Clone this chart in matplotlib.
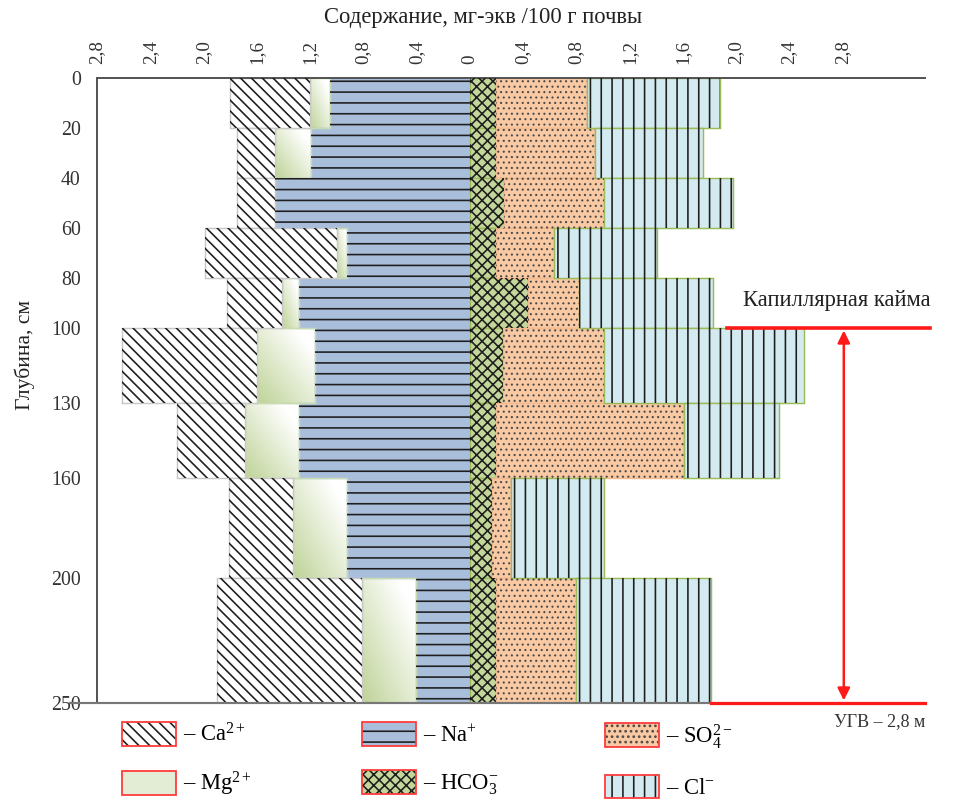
import numpy as np
import matplotlib
matplotlib.use('Agg')
import matplotlib.pyplot as plt
from matplotlib.patches import Patch
from matplotlib.colors import to_rgb

plt.rcParams['font.family'] = ['Liberation Serif', 'DejaVu Serif']
plt.rcParams['mathtext.fontset'] = 'custom'
plt.rcParams['mathtext.rm'] = 'Liberation Serif'
plt.rcParams['mathtext.it'] = 'Liberation Serif:italic'
plt.rcParams['hatch.linewidth'] = 0.9

# layer boundaries, cm
depth_bounds = [0, 20, 40, 60, 80, 100, 130, 160, 200, 250]
depth_ticks = [0, 20, 40, 60, 80, 100, 130, 160, 200, 250]

# cations, mg-eq / 100 g (to the left of zero)
na = [1.05, 1.19, 1.46, 0.92, 1.28, 1.16, 1.28, 0.92, 0.40]
mg = [0.15, 0.27, 0.00, 0.08, 0.13, 0.44, 0.41, 0.41, 0.41]
ca = [0.60, 0.29, 0.29, 0.99, 0.41, 1.01, 0.51, 0.48, 1.09]

# anions (to the right of zero)
hco3 = [0.20, 0.20, 0.26, 0.20, 0.44, 0.25, 0.20, 0.17, 0.20]
so4 = [0.68, 0.74, 0.75, 0.43, 0.38, 0.76, 1.41, 0.14, 0.60]
cl = [1.00, 0.81, 0.97, 0.78, 1.01, 1.50, 0.71, 0.70, 1.01]

x_ticks = [-2.8, -2.4, -2.0, -1.6, -1.2, -0.8, -0.4, 0, 0.4, 0.8, 1.2, 1.6, 2.0, 2.4, 2.8]
x_labels = ['2,8', '2,4', '2,0', '1,6', '1,2', '0,8', '0,4', '0',
            '0,4', '0,8', '1,2', '1,6', '2,0', '2,4', '2,8']

kaima_depth = 100   # capillary fringe
ugv_depth = 250     # bottom of profile

top = np.array(depth_bounds[:-1])
thick = np.diff(depth_bounds)
na, mg, ca = np.array(na), np.array(mg), np.array(ca)
hco3, so4, cl = np.array(hco3), np.array(so4), np.array(cl)

fig = plt.figure(figsize=(966 / 130, 800 / 130), dpi=130)
ax = fig.add_axes([97 / 966, 1 - 703 / 800, 828 / 966, 625 / 800])

HATCH_COL = '#1e1e1e'
DOT_COL = '#4a4a4a'
CA_HATCH = '\\\\\\\\'
DOTS = '....'
CROSS = 'xxxx'


def layer(left, width, color, edge, hatch=None, hcol=HATCH_COL):
    bars = ax.barh(top, width, left=left, height=thick, align='edge',
                   facecolor=color, edgecolor=edge, linewidth=0.8, zorder=2)
    if hatch:
        ax.barh(top, width, left=left, height=thick, align='edge',
                facecolor='none', edgecolor=hcol, hatch=hatch,
                linewidth=0, zorder=3)
    return bars


# cations
layer(0, -na, '#a9bedb', '#a9bedb', '--')
mg_bars = layer(-na, -mg, 'none', '#c9dbb0')
layer(-na - mg, -ca, 'white', '#c8c8c8', CA_HATCH)

# anions
layer(0, hco3, '#c4d79b', '#9bbb59', CROSS)
with plt.rc_context({'hatch.linewidth': 0.6}):
    layer(hco3, so4, '#f9c9a3', '#f3b98f', DOTS, DOT_COL)
layer(hco3 + so4, cl, '#d3eaf0', '#9bbb59', '||')

# green-white gradient inside Mg bars
g = np.linspace(0, 1, 40)
uu, vv = np.meshgrid(g, g)
t = np.clip(0.6 * uu + 0.6 * (1 - vv), 0, 1)[..., None]
grad = np.array(to_rgb('#bfd398')) * (1 - t) + np.ones(3) * t
for p in mg_bars.patches:
    if p.get_width() == 0:
        continue
    x0, x1 = sorted([p.get_x(), p.get_x() + p.get_width()])
    y0, y1 = p.get_y(), p.get_y() + p.get_height()
    ax.imshow(grad, extent=(x0, x1, y1, y0), aspect='auto',
              interpolation='bilinear', zorder=1.5)

ax.set_xlim(-2.80, 3.42)
ax.set_ylim(ugv_depth, 0)

ax.xaxis.set_ticks_position('top')
ax.set_xticks(x_ticks)
ax.set_xticklabels(x_labels, rotation=90)
ax.set_yticks(depth_ticks)
ax.tick_params(axis='x', length=0, pad=8, labelsize=10.5, colors='#333333')
ax.tick_params(axis='y', length=0, pad=9, labelsize=11, colors='#333333')

for s in ['right', 'bottom']:
    ax.spines[s].set_visible(False)
for s in ['top', 'left']:
    ax.spines[s].set_color('#555555')
    ax.spines[s].set_linewidth(1.1)

# bottom line: grey under the profile, red as groundwater level
end_cl = (hco3 + so4 + cl)[-1]
ax.plot([-3.0, end_cl], [ugv_depth, ugv_depth], color='#777777', lw=1.2,
        clip_on=False, zorder=4)
ax.plot([end_cl, 3.42], [ugv_depth, ugv_depth], color='#ff1a1a', lw=1.8,
        clip_on=False, zorder=4)
ax.plot([1.93, 3.46], [kaima_depth, kaima_depth], color='#ff1a1a', lw=2.0,
        clip_on=False, zorder=4)
ax.annotate('', xy=(2.81, kaima_depth + 1), xytext=(2.81, ugv_depth - 1),
            arrowprops=dict(arrowstyle='<|-|>', color='#ff1a1a', lw=1.4,
                            mutation_scale=14, shrinkA=0, shrinkB=0), zorder=4)
ax.text(2.05, 89, 'Капиллярная кайма', fontsize=12.5, color='#222222',
        va='center', ha='left', clip_on=False)
ax.text(2.74, 257.5, 'УГВ – 2,8 м', fontsize=10, color='#333333',
        va='center', ha='left', clip_on=False)

fig.text(483 / 966, 1 - 18 / 800, 'Содержание, мг-экв /100 г почвы',
         fontsize=12.5, ha='center', va='center', color='#222222')
fig.text(25 / 966, 1 - 355 / 800, 'Глубина, см', fontsize=12,
         rotation=90, ha='center', va='center', color='#222222')


# legend
def handle(color, hatch=None, hcol=HATCH_COL):
    parts = [Patch(facecolor=color, edgecolor='none')]
    if hatch:
        parts.append(Patch(facecolor='none', edgecolor=hcol,
                           hatch=hatch, linewidth=0))
    parts.append(Patch(facecolor='none', edgecolor='#ff3b3b', linewidth=1.0))
    return tuple(parts)


columns = [
    ([handle('white', CA_HATCH), handle('#e3edd5')],
     ['– Ca$^{2+}$', '– Mg$^{2+}$'], 122),
    ([handle('#a9bedb', '--'), handle('#c4d79b', CROSS)],
     ['– Na$^{+}$', '– HCO$_3^{-}$'], 362),
    ([handle('#f9c9a3', DOTS, DOT_COL), handle('#d3eaf0', '||')],
     ['– SO$_4^{2-}$', '– Cl$^{-}$'], 605),
]
for hs, labs, xpx in columns:
    fig.legend(hs, labs, loc='upper left',
               bbox_to_anchor=(xpx / 966, 1 - 722 / 800),
               frameon=False, fontsize=12.5, handlelength=2.4,
               handleheight=1.25, handletextpad=0.3, labelspacing=1.05,
               borderpad=0, borderaxespad=0)

fig.savefig('out.png', dpi=130)
